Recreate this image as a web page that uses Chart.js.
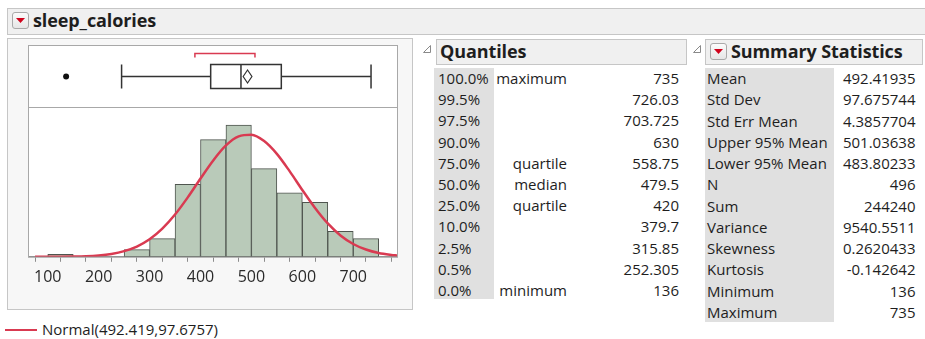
<!DOCTYPE html>
<html>
<head>
<meta charset="utf-8">
<script src="https://cdn.jsdelivr.net/npm/chart.js@4.4.0/dist/chart.umd.min.js"></script>
<style>
body { margin: 0; width: 925px; height: 339px; background: #fff; position: relative; overflow: hidden;
       font-family: "Open Sans", "Noto Sans", sans-serif; color: #1e1e1e; }
.abs { position: absolute; }
.bar { background: #f0f0f0; border: 1px solid #c6c6c6; box-sizing: border-box; }
.hdr { font-weight: bold; font-size: 18px; line-height: 24px; white-space: nowrap; letter-spacing: -0.1px; }
.btn { width: 17px; height: 17px; box-sizing: border-box; border: 1px solid #a9a9a9; border-radius: 3px;
       background: linear-gradient(#fbfbfb, #e6e6e6); }
.btn svg, .disc svg { display: block; }
.col { background: #e0e0e0; }
.row { position: absolute; height: 21.2px; line-height: 21.2px; font-size: 15px; white-space: nowrap; }
</style>
</head>
<body>

<!-- report title -->
<div class="abs bar" style="left:7px; top:8px; width:930px; height:27px;"></div>
<div class="abs btn" style="left:12px; top:12px;"><svg width="15" height="15"><path d="M3 5 L12 5 L7.5 10 Z" fill="#d0021b"/></svg></div>
<div class="abs hdr" style="left:33px; top:8px;">sleep_calories</div>

<!-- left panel with the chart -->
<div class="abs" style="left:7px; top:38px; width:406px; height:272px; background:#f7f7f7; border:1px solid #c6c6c6; box-sizing:border-box;"></div>
<canvas id="dist" class="abs" style="left:28px; top:45px;" width="370" height="248"></canvas>

<!-- legend -->
<div class="abs" style="left:5px; top:329px; width:32px; height:1.5px; background:#d93a51;"></div>
<div class="abs" style="left:42px; top:319px; font-size:15px; line-height:21px;">Normal(492.419,97.6757)</div>

<!-- quantiles -->
<div class="abs disc" style="left:422px; top:44px;"><svg width="10" height="10"><path d="M8.5 1.5 L8.5 8.5 L1.5 8.5 Z" fill="none" stroke="#8a8a8a" stroke-width="1"/></svg></div>
<div class="abs bar" style="left:436px; top:39px; width:251px; height:26px;"></div>
<div class="abs hdr" style="left:440px; top:39px;">Quantiles</div>
<div class="abs col" style="left:434px; top:68px; width:60px; height:231px;"></div>
<div id="qtable"></div>

<!-- summary statistics -->
<div class="abs disc" style="left:692px; top:44px;"><svg width="10" height="10"><path d="M8.5 1.5 L8.5 8.5 L1.5 8.5 Z" fill="none" stroke="#8a8a8a" stroke-width="1"/></svg></div>
<div class="abs bar" style="left:705px; top:39px; width:218px; height:26px;"></div>
<div class="abs btn" style="left:710px; top:43px;"><svg width="15" height="15"><path d="M3 5 L12 5 L7.5 10 Z" fill="#d0021b"/></svg></div>
<div class="abs hdr" style="left:731px; top:39px;">Summary Statistics</div>
<div class="abs col" style="left:705px; top:68px; width:129px; height:254px;"></div>
<div id="stable"></div>

<script>
// histogram bins (lower edges) and counts
const binStarts = [100, 150, 200, 250, 300, 350, 400, 450, 500, 550, 600, 650, 700];
const binCounts = [2, 0, 0, 6, 15, 60, 97, 109, 73, 53, 45, 21, 15];
const binWidth = 50;

// fitted normal curve (counts per bin)
const curveX = [75, 100, 125, 150, 175, 200, 225, 250, 275, 300, 325, 350, 375, 400, 425, 450, 475,
                500, 525, 550, 575, 600, 625, 650, 675, 700, 725, 750, 775, 786];
const curveY = [0.01, 0.03, 0.09, 0.22, 0.5, 1.15, 2.4, 4.7, 8.5, 14.5, 23.3, 35, 49.2, 64.8, 79.8, 92.2, 99.7,
                101, 95.8, 85.2, 70.9, 55.3, 40.4, 27.6, 17.7, 10.6, 6, 3.1, 1.55, 1.1];

// outlier box plot
const boxValues = [245, 420, 479.5, 558.75, 735]; // whisker lo, q1, median, q3, whisker hi
const outliers = [136];
const meanCI = [483.80233, 492.41935, 501.03638];
const shortestHalf = [389, 507];

// quantiles table
const qLevels = ['100.0%', '99.5%', '97.5%', '90.0%', '75.0%', '50.0%', '25.0%', '10.0%', '2.5%', '0.5%', '0.0%'];
const qNames = ['maximum', '', '', '', 'quartile', 'median', 'quartile', '', '', '', 'minimum'];
const qValues = ['735', '726.03', '703.725', '630', '558.75', '479.5', '420', '379.7', '315.85', '252.305', '136'];

// summary statistics table
const sLabels = ['Mean', 'Std Dev', 'Std Err Mean', 'Upper 95% Mean', 'Lower 95% Mean', 'N', 'Sum',
                 'Variance', 'Skewness', 'Kurtosis', 'Minimum', 'Maximum'];
const sValues = ['492.41935', '97.675744', '4.3857704', '501.03638', '483.80233', '496', '244240',
                 '9540.5511', '0.2620433', '-0.142642', '136', '735'];

const RED = '#d93a51';

function addRow(parent, text, left, top, width, align) {
    const d = document.createElement('div');
    d.className = 'row';
    d.style.left = left + 'px';
    d.style.top = top + 'px';
    d.style.width = width + 'px';
    d.style.textAlign = align;
    d.textContent = text;
    parent.appendChild(d);
}

function buildTables() {
    const q = document.getElementById('qtable');
    qLevels.forEach((lvl, i) => {
        const top = 68 + i * 21.2;
        addRow(q, lvl, 438, top, 60, 'left');
        addRow(q, qNames[i], 495, top, 72, 'right');
        addRow(q, qValues[i], 590, top, 89, 'right');
    });
    const s = document.getElementById('stable');
    sLabels.forEach((lab, i) => {
        const top = 68 + i * 21.25;
        addRow(s, lab, 707, top, 127, 'left');
        addRow(s, sValues[i], 836, top, 79.5, 'right');
    });
}

// frame, divider and the box plot above the histogram
const boxPlotPlugin = {
    id: 'boxPlot',
    beforeDraw(chart) {
        const ctx = chart.ctx, a = chart.chartArea;
        ctx.save();
        ctx.fillStyle = '#fff';
        ctx.fillRect(0, 0, chart.width, a.bottom);
        ctx.restore();
    },
    afterDraw(chart) {
        const ctx = chart.ctx, a = chart.chartArea, x = chart.scales.x;
        const px = v => x.getPixelForValue(v);
        ctx.save();
        // frame
        ctx.strokeStyle = '#a8a8a8';
        ctx.lineWidth = 1;
        ctx.strokeRect(0.5, 0.5, chart.width - 1, a.bottom);
        ctx.beginPath();
        ctx.moveTo(0, a.top + 0.5);
        ctx.lineTo(chart.width, a.top + 0.5);
        ctx.stroke();

        const cy = 31.5, h = 12;
        ctx.strokeStyle = '#333';
        ctx.lineWidth = 1.5;
        ctx.beginPath();
        // whiskers
        ctx.moveTo(px(boxValues[0]), cy); ctx.lineTo(px(boxValues[1]), cy);
        ctx.moveTo(px(boxValues[3]), cy); ctx.lineTo(px(boxValues[4]), cy);
        ctx.moveTo(px(boxValues[0]), cy - h); ctx.lineTo(px(boxValues[0]), cy + h);
        ctx.moveTo(px(boxValues[4]), cy - h); ctx.lineTo(px(boxValues[4]), cy + h);
        // median
        ctx.moveTo(px(boxValues[2]), cy - h); ctx.lineTo(px(boxValues[2]), cy + h);
        ctx.stroke();
        ctx.strokeRect(px(boxValues[1]), cy - h, px(boxValues[3]) - px(boxValues[1]), 2 * h);

        // mean diamond
        ctx.lineWidth = 1.2;
        ctx.beginPath();
        ctx.moveTo(px(meanCI[0]), cy);
        ctx.lineTo(px(meanCI[1]), cy - 6.5);
        ctx.lineTo(px(meanCI[2]), cy);
        ctx.lineTo(px(meanCI[1]), cy + 6.5);
        ctx.closePath();
        ctx.stroke();

        // outliers
        ctx.fillStyle = '#111';
        outliers.forEach(v => {
            ctx.beginPath();
            ctx.arc(px(v), cy, 3, 0, Math.PI * 2);
            ctx.fill();
        });

        // shortest half bracket
        ctx.strokeStyle = RED;
        ctx.lineWidth = 1.5;
        ctx.beginPath();
        ctx.moveTo(px(shortestHalf[0]), 12.5);
        ctx.lineTo(px(shortestHalf[0]), 8.5);
        ctx.lineTo(px(shortestHalf[1]), 8.5);
        ctx.lineTo(px(shortestHalf[1]), 12.5);
        ctx.stroke();
        ctx.restore();
    }
};

function initChart() {
    const ctx = document.getElementById('dist').getContext('2d');
    new Chart(ctx, {
        data: {
            datasets: [{
                type: 'line',
                order: 0,
                data: curveX.map((v, i) => ({ x: v, y: curveY[i] })),
                borderColor: RED,
                borderWidth: 2.5,
                pointRadius: 0,
                cubicInterpolationMode: 'monotone',
                fill: false
            }, {
                type: 'bar',
                order: 1,
                data: binStarts.map((b, i) => ({ x: b + binWidth / 2, y: binCounts[i] })),
                backgroundColor: '#b9cab9',
                borderColor: '#4f554f',
                borderWidth: 1,
                borderSkipped: false,
                barPercentage: 1,
                categoryPercentage: 1
            }]
        },
        options: {
            responsive: false,
            animation: false,
            devicePixelRatio: 1,
            layout: { padding: { top: 62, left: 1, right: 1, bottom: 0 } },
            plugins: { legend: { display: false }, tooltip: { enabled: false } },
            scales: {
                x: {
                    type: 'linear',
                    min: 65,
                    max: 786,
                    offset: false,
                    grid: { drawOnChartArea: false, drawTicks: true, tickLength: 5, color: '#8c8c8c' },
                    border: { display: true, color: '#8c8c8c', width: 1 },
                    ticks: {
                        stepSize: 50,
                        includeBounds: false,
                        autoSkip: false,
                        maxRotation: 0,
                        padding: 6,
                        color: '#2a2a2a',
                        font: { family: '"Open Sans", "Noto Sans", sans-serif', size: 16 },
                        callback: v => (v % 100 === 0 ? v : '')
                    }
                },
                y: { display: false, min: 0, max: 124 }
            }
        },
        plugins: [boxPlotPlugin]
    });
}

window.addEventListener('DOMContentLoaded', () => {
    buildTables();
    initChart();
});
</script>
</body>
</html>
